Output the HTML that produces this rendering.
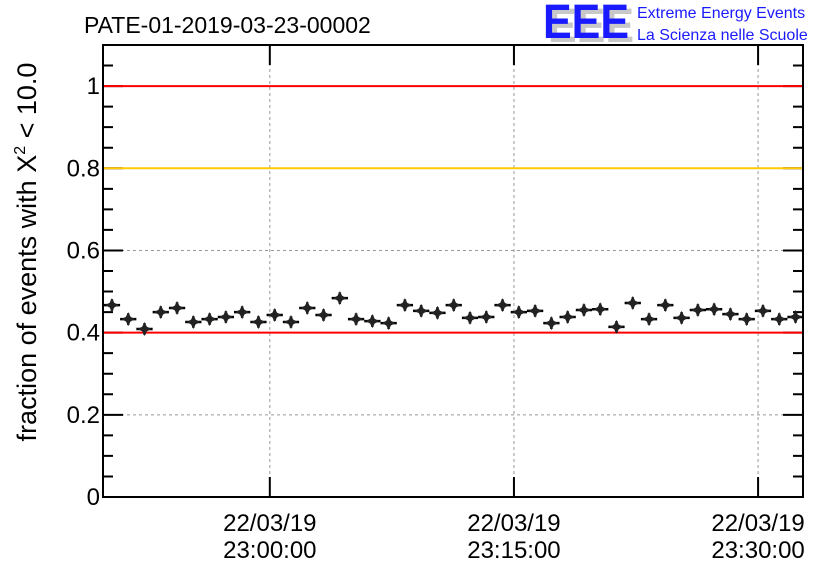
<!DOCTYPE html>
<html><head><meta charset="utf-8"><style>
body{margin:0;background:#fff;}
svg{display:block;font-family:"Liberation Sans",sans-serif;}
</style></head><body>
<svg id="chart" width="836" height="572" viewBox="0 0 836 572">
<text x="84" y="33" font-size="23" fill="#000">PATE-01-2019-03-23-00002</text>
<g>
<text x="548" y="42" font-size="48" font-weight="bold" fill="#c8c8c8" textLength="86" lengthAdjust="spacingAndGlyphs">EEE</text>
<text x="543" y="38" font-size="48" font-weight="bold" fill="#1a1aff" textLength="86" lengthAdjust="spacingAndGlyphs">EEE</text>
<text x="637" y="18" font-size="16" fill="#1a1aff">Extreme Energy Events</text>
<text x="637" y="40" font-size="16" fill="#1a1aff">La Scienza nelle Scuole</text>
</g>
<text transform="translate(36,252) rotate(-90)" text-anchor="middle" font-size="27" fill="#000">fraction of events with X<tspan dy="-11" font-size="16">2</tspan><tspan dy="11"> &lt; 10.0</tspan></text>
<g id="grid"></g><g id="axes"></g><g id="lines"></g><g id="marks"></g>
</svg>
<script>
const times=[-9.7,-8.7,-7.7,-6.7,-5.7,-4.7,-3.7,-2.7,-1.7,-0.7,0.3,1.3,2.3,3.3,4.3,5.3,6.3,7.3,8.3,9.3,10.3,11.3,12.3,13.3,14.3,15.3,16.3,17.3,18.3,19.3,20.3,21.3,22.3,23.3,24.3,25.3,26.3,27.3,28.3,29.3,30.3,31.3,32.3];
const values=[0.467,0.433,0.409,0.450,0.460,0.426,0.433,0.438,0.450,0.426,0.443,0.426,0.460,0.443,0.484,0.433,0.428,0.423,0.467,0.453,0.448,0.467,0.436,0.438,0.467,0.450,0.453,0.423,0.438,0.455,0.457,0.414,0.472,0.433,0.467,0.436,0.455,0.457,0.445,0.433,0.453,0.433,0.438];
const errors=values.map(()=>0.014);
const xTickMinutes=[0,15,30];
const xTickDates=["22/03/19","22/03/19","22/03/19"];
const xTickTimes=["23:00:00","23:15:00","23:30:00"];
const yTicks=[0,0.2,0.4,0.6,0.8,1];
const yTickLabels=["0","0.2","0.4","0.6","0.8","1"];
const refLines=[1.0,0.8,0.4];
const refColors=["#ff0000","#ffcc00","#ff0000"];
const L=103,R=803,T=45,B=497,xmin=-10.25,xmax=32.76,ymin=0,ymax=1.1;
const sx=v=>L+(v-xmin)/(xmax-xmin)*(R-L);
const sy=v=>B-(v-ymin)/(ymax-ymin)*(B-T);
const NS="http://www.w3.org/2000/svg";
function mk(tag,attrs,parent){const e=document.createElementNS(NS,tag);for(const k in attrs)e.setAttribute(k,attrs[k]);document.getElementById(parent).appendChild(e);return e;}
xTickMinutes.forEach(m=>{const e=mk('line',{x1:sx(m),x2:sx(m),y1:T,y2:B,stroke:'#999','stroke-dasharray':'3,3','stroke-width':1},'grid');

});
yTicks.forEach(v=>{if(v===0)return;const e=mk('line',{x1:L,x2:R,y1:sy(v),y2:sy(v),stroke:'#999','stroke-dasharray':'3,3','stroke-width':1},'grid');

});
refLines.forEach((v,i)=>{const e=mk('line',{x1:L+1,x2:R-1,y1:sy(v),y2:sy(v),stroke:refColors[i],'stroke-width':2},'lines');

});
times.forEach((t,i)=>{const g=mk('g',{},'marks');


const x=sx(t),y=sy(values[i]);
const a=document.createElementNS(NS,'path');
a.setAttribute('d',`M${sx(t-0.5)},${y}H${sx(t+0.5)}M${x},${sy(values[i]+errors[i])}V${sy(values[i]-errors[i])}`);
a.setAttribute('stroke','#000');a.setAttribute('stroke-width','2.5');g.appendChild(a);
const d=document.createElementNS(NS,'path');
d.setAttribute('d',`M${x},${y-7}L${x+3.5},${y}L${x},${y+7}L${x-3.5},${y}ZM${x-7},${y}L${x},${y-3.5}L${x+7},${y}L${x},${y+3.5}Z`);
d.setAttribute('fill','#222');g.appendChild(d);});
const f=mk('rect',{x:L,y:T,width:R-L,height:B-T,fill:'none',stroke:'#000','stroke-width':2},'axes');


for(let v=0;v<=1.1001;v+=0.05){const maj=Math.abs(v/0.2-Math.round(v/0.2))<1e-6;const len=maj?20:10;
const e=mk('path',{d:`M${L},${sy(v)}h${len}M${R},${sy(v)}h${-len}`,stroke:'#000','stroke-width':2},'axes');

}
yTicks.forEach((v,i)=>{const e=mk('text',{x:L-3,y:sy(v)+8,'text-anchor':'end','font-size':24},'axes');e.textContent=yTickLabels[i];

});
xTickMinutes.forEach((m,i)=>{const x=sx(m);
const t=mk('path',{d:`M${x},${B}v-20M${x},${T}v20`,stroke:'#000','stroke-width':2},'axes');


const a=mk('text',{x:x,y:531,'text-anchor':'middle','font-size':24},'axes');a.textContent=xTickDates[i];


const b=mk('text',{x:x,y:558,'text-anchor':'middle','font-size':24},'axes');b.textContent=xTickTimes[i];

});
</script>
</body></html>
